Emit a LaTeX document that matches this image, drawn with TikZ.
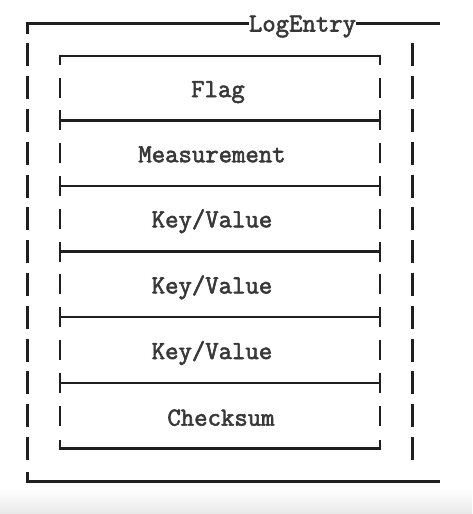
\documentclass[tikz,border=0pt]{standalone}
\usepackage{fontspec}
\newfontfamily\boxmono[FakeBold=2.3]{Latin Modern Mono}
\begin{document}
\begin{tikzpicture}[x=1pt,y=-1pt,
  rule/.style={draw=black!88, line width=2.5pt, line cap=butt},
  lbl/.style={font=\boxmono\fontsize{26}{30}\selectfont, text=black!78, inner sep=0pt, anchor=base},
]
\useasboundingbox (0,0) rectangle (472,514);
\fill[white] (0,0) rectangle (472,514);
\shade[top color=white, bottom color=black!9] (0,488) rectangle (472,514);
% title
\node[lbl] (title) at (302.5,31.5) {LogEntry};
\coordinate (otl) at (27.7,23.3);
\coordinate (otr) at (440,23.3);
\draw[rule] (27.7,34) -- (otl) -- (otl -| title.west);
\draw[rule] (otr -| title.east) -- (otr);
% outer dashed sides
\foreach \k in {1,...,13}{
  \draw[rule, line width=2.7pt] (27.7,{22+32.8*\k-11.5}) -- ++(0,23);
  \draw[rule, line width=2.7pt] (412.3,{22+32.8*\k-11.5}) -- ++(0,23);
}
\coordinate (obl) at (27.7,481.7);
\coordinate (obr) at (440,481.7);
\draw[rule] (27.7,472) -- (obl) -- (obr);
% inner box
\coordinate (itl) at (60,56);
\coordinate (itr) at (380,56);
\coordinate (ibl) at (60,448.4);
\coordinate (ibr) at (380,448.4);
\draw[rule] (60,65) -- (itl) -- (itr) -- (380,65);
\draw[rule] (60,440) -- (ibl) -- (ibr) -- (380,440);
\foreach \k in {2,4,...,12}{
  \draw[rule] (60,{22+32.8*\k-10}) -- ++(0,20);
  \draw[rule] (380,{22+32.8*\k-10}) -- ++(0,20);
}
\foreach \k in {3,5,...,11}{
  \draw[rule] (60,{22+32.8*\k}) -- (380,{22+32.8*\k});
  \draw[rule] (60,{22+32.8*\k-10}) -- ++(0,20);
  \draw[rule] (380,{22+32.8*\k-10}) -- ++(0,20);
}
% labels
\node[lbl] (flag) at (218,{22+32.8*2+9.5}) {Flag};
\node[lbl] (meas) at (212,{22+32.8*4+9}) {Measurement};
\node[lbl] (kv1)  at (212,{22+32.8*6+8.5}) {Key/Value};
\node[lbl] (kv2)  at (212,{22+32.8*8+9}) {Key/Value};
\node[lbl] (kv3)  at (212,{22+32.8*10+9}) {Key/Value};
\node[lbl] (chk)  at (221,{22+32.8*12+10}) {Checksum};
\end{tikzpicture}
\end{document}
